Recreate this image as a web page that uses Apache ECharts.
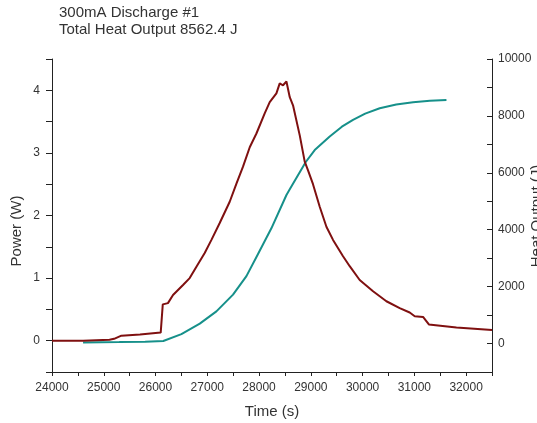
<!DOCTYPE html>
<html>
<head>
<meta charset="utf-8">
<script src="https://cdn.jsdelivr.net/npm/echarts@6/dist/echarts.min.js"></script>
<style>
html,body{margin:0;padding:0;background:#fff;}
#chart{width:537px;height:423px;}
</style>
</head>
<body>
<div id="chart"></div>
<script>
// Power (W) vs time (s)
const powerTime = [24000,24600,24620,25110,25200,25340,25700,26100,26140,26240,26338,26531,26660,26790,26950,27080,27240,27433,27563,27690,27820,27949,28109,28206,28335,28399,28463,28529,28593,28656,28786,28882,28946,29042,29172,29301,29429,29622,29751,29944,30202,30460,30717,30910,31007,31168,31200,31280,31813,32500];
const powerValues = [0,0,0.016,0.016,0.03,0.08,0.10,0.13,0.58,0.60,0.73,0.89,1.00,1.18,1.40,1.61,1.88,2.22,2.51,2.78,3.09,3.31,3.63,3.81,3.95,4.11,4.08,4.14,3.89,3.76,3.28,2.86,2.72,2.50,2.14,1.82,1.61,1.35,1.19,0.97,0.79,0.63,0.52,0.45,0.39,0.38,0.37,0.26,0.21,0.17];
// Cumulative heat output (J) vs time (s)
const heatTime = [24600,25300,25800,26150,26500,26855,27176,27497,27756,27980,28238,28529,28593,28902,29075,29365,29600,29815,30050,30331,30650,30975,31300,31620];
const heatValues = [40,50,60,90,330,700,1130,1720,2370,3150,4050,5220,5420,6380,6800,7276,7620,7863,8080,8270,8400,8481,8530,8562];

const titleLines = ['300mA Discharge #1', 'Total Heat Output 8562.4 J'];
const xName = 'Time (s)';
const yLeftName = 'Power (W)';
const yRightName = 'Heat Output (J)';

const pair = (xs, ys) => xs.map((x, i) => [x, ys[i]]);

const chart = echarts.init(document.getElementById('chart'), null, {renderer: 'canvas'});
const axisColor = '#222';
const labelColor = '#333';
const fontFamily = 'Liberation Sans, Arial, sans-serif';

chart.setOption({
  animation: false,
  backgroundColor: '#fff',
  title: {
    text: titleLines.join('\n'),
    left: 59, top: 4, padding: 0,
    textStyle: {fontSize: 15, fontWeight: 'normal', color: labelColor, fontFamily, lineHeight: 17}
  },
  grid: {left: 52, right: 45, top: 59, bottom: 51, containLabel: false, outerBoundsMode: 'none'},
  xAxis: {
    type: 'value', min: 24000, max: 32500, interval: 500,
    axisLine: {show: true, onZero: false, lineStyle: {color: axisColor, width: 1}},
    axisTick: {show: true, length: 4, lineStyle: {color: axisColor}},
    splitLine: {show: false},
    axisLabel: {
      color: labelColor, fontSize: 12, fontFamily, margin: 10,
      showMinLabel: true, showMaxLabel: true, hideOverlap: false,
      formatter: v => (v % 1000 === 0 ? String(v) : '')
    }
  },
  yAxis: [
    {
      type: 'value', min: -0.5, max: 4.5, interval: 0.5, position: 'left',
      axisLine: {show: true, onZero: false, lineStyle: {color: axisColor, width: 1}},
      axisTick: {show: true, length: 6, lineStyle: {color: axisColor}},
      splitLine: {show: false},
      axisLabel: {
        color: labelColor, fontSize: 12, fontFamily, margin: 12,
        formatter: v => (Math.abs(v - Math.round(v)) < 1e-9 ? String(Math.round(v)) : '')
      }
    },
    {
      type: 'value', min: -1000, max: 10000, interval: 1000, position: 'right',
      axisLine: {show: true, onZero: false, lineStyle: {color: axisColor, width: 1}},
      axisTick: {show: true, inside: true, length: 5, lineStyle: {color: axisColor}},
      splitLine: {show: false},
      axisLabel: {
        color: labelColor, fontSize: 12, fontFamily, margin: 6,
        formatter: v => (v >= 0 && v % 2000 === 0 ? String(v) : '')
      }
    }
  ],
  graphic: [
    {type: 'text', x: 272, y: 412, style: {text: xName, fontSize: 15, fontFamily, fill: labelColor, align: 'center', verticalAlign: 'middle'}},
    {type: 'text', x: 17, y: 231, rotation: Math.PI / 2, style: {text: yLeftName, fontSize: 15, fontFamily, fill: labelColor, align: 'center', verticalAlign: 'middle'}},
    {type: 'text', x: 537, y: 216, rotation: Math.PI / 2, style: {text: yRightName, fontSize: 15, fontFamily, fill: labelColor, align: 'center', verticalAlign: 'middle'}}
  ],
  series: [
    {
      name: 'Heat', type: 'line', yAxisIndex: 1, data: pair(heatTime, heatValues),
      showSymbol: false, symbol: 'none', smooth: false,
      lineStyle: {color: '#16908a', width: 2}, z: 2
    },
    {
      name: 'Power', type: 'line', yAxisIndex: 0, data: pair(powerTime, powerValues),
      showSymbol: false, symbol: 'none', smooth: false,
      lineStyle: {color: '#7f1010', width: 2}, z: 3
    }
  ]
});
</script>
</body>
</html>
